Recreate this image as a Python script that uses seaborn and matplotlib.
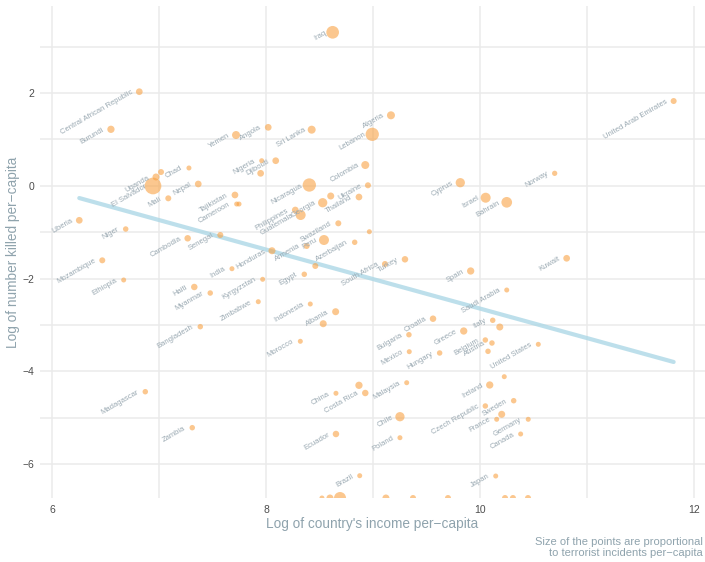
import numpy as np
import pandas as pd
import matplotlib
matplotlib.use("Agg")
import matplotlib.pyplot as plt
from matplotlib.ticker import FixedLocator
import seaborn as sns

# ---- data -------------------------------------------------------------
countries = [
    "Iraq", "Central African Republic", "Burundi", "Yemen", "Angola", "Sri Lanka",
    "Algeria", "Lebanon", "United Arab Emirates", "Uganda", "", "Chad",
    "El Salvador", "Mali", "Nepal", "Nigeria", "Djibouti", "", "Tajikistan",
    "Cameroon", "", "Nicaragua", "Colombia", "Ukraine", "", "Georgia",
    "Thailand", "Philippines", "Guatemala", "Swaziland", "", "Peru", "Armenia",
    "Azerbaijan", "Honduras", "Egypt", "", "South Africa", "Turkey", "Cyprus",
    "Spain", "Kyrgyzstan", "Zimbabwe", "Indonesia", "Albania", "", "Croatia",
    "Greece", "Bulgaria", "Norway", "Israel", "Bahrain", "Kuwait",
    "Saudi Arabia", "Italy", "", "Belgium", "Austria", "", "United States", "",
    "Ireland", "Sweden", "Czech Republic", "", "France", "Germany", "Canada",
    "Japan", "Morocco", "Mexico", "Hungary", "China", "", "Costa Rica",
    "Malaysia", "Chile", "Poland", "Ecuador", "Brazil", "Zambia", "Madagascar",
    "Bangladesh", "Haiti", "Myanmar", "India", "Cambodia", "Senegal", "Liberia",
    "Niger", "Mozambique", "Ethiopia",
    "", "", "", "", "", "", "", "", "",
]
log_income = [
    8.623, 6.816, 6.551, 7.720, 8.021, 8.427,
    9.168, 8.993, 11.810, 6.972, 7.019, 7.280,
    6.944, 7.087, 7.367, 7.960, 8.091, 7.950, 7.710,
    7.726, 7.748, 8.405, 8.928, 8.953, 8.605, 8.530,
    8.869, 8.274, 8.324, 8.676, 8.966, 8.542, 8.380,
    8.829, 8.056, 8.358, 8.461, 9.112, 9.299, 9.816,
    9.913, 7.969, 7.928, 8.414, 8.651, 8.535, 9.561,
    9.848, 9.336, 10.698, 10.053, 10.250, 10.810,
    10.250, 10.119, 10.185, 10.050, 10.112, 10.075, 10.545, 10.227,
    10.091, 10.315, 10.050, 10.203, 10.156, 10.451, 10.380,
    10.147, 8.321, 9.339, 9.623, 8.654, 8.869, 8.928,
    9.315, 9.252, 9.252, 8.654, 8.876, 7.311, 6.872,
    7.386, 7.330, 7.479, 7.682, 7.268, 7.573, 6.255,
    6.689, 6.470, 6.670,
    8.523, 8.598, 8.692, 9.121, 9.374, 9.701, 10.234, 10.308, 10.449,
]
NEG_INF = -np.inf  # no deaths recorded: log is -Inf, shown on the panel edge
log_killed = [
    3.309, 2.028, 1.217, 1.094, 1.260, 1.209,
    1.519, 1.109, 1.827, 0.189, 0.296, 0.383,
    -0.005, -0.271, 0.038, 0.540, 0.540, 0.268, -0.199,
    -0.394, -0.394, 0.016, 0.447, 0.010, -0.221, -0.366,
    -0.243, -0.523, -0.631, -0.810, -0.991, -1.170, -1.299,
    -1.219, -1.401, -1.909, -1.730, -1.687, -1.586, 0.066,
    -1.838, -2.017, -2.500, -2.550, -2.716, -2.975, -2.867,
    -3.132, -3.212, 0.268, -0.258, -0.357, -1.564,
    -2.248, -2.901, -3.046, -3.326, -3.391, -3.570, -3.419, -4.117,
    -4.296, -4.635, -4.749, -4.928, -5.036, -5.036, -5.353,
    -6.259, -3.354, -3.578, -3.606, -4.475, -4.303, -4.469,
    -4.247, -4.980, -5.433, -5.353, -6.252, -5.217, -4.441,
    -3.039, -2.183, -2.313, -1.789, -1.133, -1.062, -0.745,
    -0.933, -1.608, -2.032,
    NEG_INF, NEG_INF, NEG_INF, NEG_INF, NEG_INF, NEG_INF, NEG_INF, NEG_INF, NEG_INF,
]
incidents = [
    161, 45, 53, 64, 45, 64,
    64, 177, 36, 49, 36, 25,
    279, 36, 45, 25, 45, 45, 45,
    25, 25, 177, 64, 36, 49, 86,
    45, 45, 100, 36, 25, 100, 36,
    30, 49, 30, 36, 36, 42, 86,
    53, 25, 25, 25, 49, 49, 42,
    53, 30, 28, 100, 114, 45,
    25, 30, 49, 30, 30, 30, 25, 25,
    53, 30, 30, 49, 25, 25, 25,
    25, 25, 25, 30, 25, 53, 42,
    25, 86, 25, 42, 25, 30, 30,
    30, 42, 30, 25, 42, 36, 45,
    30, 36, 25,
    25, 49, 144, 49, 36, 36, 36, 36, 36,
]
# linear fit of log killed on log income (end points of the fitted line)
fit_income = [6.255, 11.81]
fit_killed = [-0.265, -3.80]

x_title = "Log of country's income per\u2212capita"
y_title = "Log of number killed per\u2212capita"
caption = "Size of the points are proportional\nto terrorist incidents per\u2212capita"

# ---- styling ------------------------------------------------------------
sns.set_theme(style="white")
plt.rcParams["font.family"] = ["Liberation Sans", "DejaVu Sans"]

XLIM = (5.888, 12.103)
YLIM = (-6.733, 3.876)

df = pd.DataFrame({"country": countries, "income": log_income,
                   "killed": log_killed, "incidents": incidents})
df["killed_plot"] = df["killed"].where(np.isfinite(df["killed"]), YLIM[0])
fit = pd.DataFrame({"income": fit_income, "killed": fit_killed})

fig = plt.figure(figsize=(7.05, 5.62), dpi=100)
ax = fig.add_axes([40 / 705, 64 / 562, 665 / 705, 492 / 562])

sns.lineplot(data=fit, x="income", y="killed", ax=ax, color="#add8e6",
             linewidth=3.0, alpha=0.8, zorder=2)
sns.scatterplot(data=df, x="income", y="killed_plot", size="incidents",
                sizes=(0, 0.5184 * 300), size_norm=(0, 300), color="#f9a03f",
                alpha=0.58, linewidth=0, legend=False, ax=ax, zorder=3)

for _, r in df.iterrows():
    if r["country"] and np.isfinite(r["killed"]):
        ax.text(r["income"] - 0.065, r["killed"], r["country"], rotation=30,
                rotation_mode="anchor", ha="right", va="center", fontsize=5.5,
                color="#9aa9b2", clip_on=True, zorder=4)

ax.set_xlim(*XLIM)
ax.set_ylim(*YLIM)
ax.xaxis.set_major_locator(FixedLocator([6, 8, 10, 12]))
ax.xaxis.set_minor_locator(FixedLocator([7, 9, 11]))
ax.yaxis.set_major_locator(FixedLocator([-6, -4, -2, 0, 2]))
ax.yaxis.set_minor_locator(FixedLocator([-5, -3, -1, 1, 3]))
ax.grid(which="both", color="#ebebeb", linewidth=1.1)
ax.set_axisbelow(True)
for s in ax.spines.values():
    s.set_visible(False)
ax.tick_params(which="both", length=0, labelsize=7.5, labelcolor="#4d4d4d", pad=4)
ax.tick_params(axis="x", pad=5)

ax.set_xlabel(x_title, fontsize=9.8, color="#8fa3ad")
ax.set_ylabel(y_title, fontsize=9.8, color="#8fa3ad")
ax.xaxis.set_label_coords(0.5, -(517 - 498) / 492)
ax.yaxis.set_label_coords(-(40 - 20) / 665, 0.5)

fig.text(1 - 2 / 705, 1 - 537 / 562, caption, ha="right", va="top",
         fontsize=8.0, linespacing=1.15, color="#8fa3ad",
         multialignment="right")

fig.savefig("out.png", dpi=100)
